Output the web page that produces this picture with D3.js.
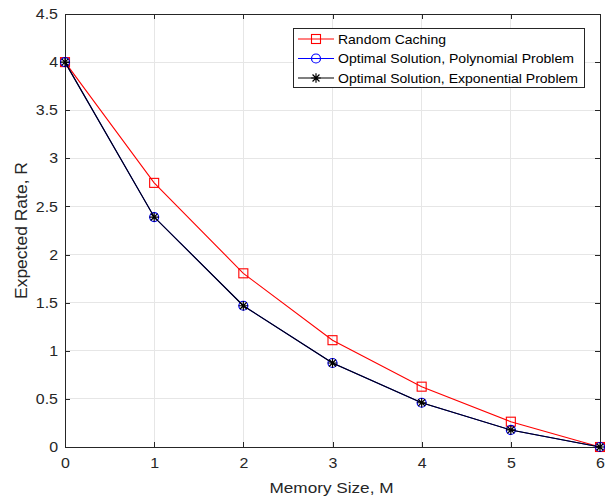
<!DOCTYPE html>
<html><head><meta charset="utf-8">
<script src="https://cdn.jsdelivr.net/npm/d3@7"></script>
<style>body{margin:0;background:#fff}svg{display:block}text{font-family:"Liberation Sans",Arial,sans-serif}</style>
</head><body><svg id="c" width="605" height="497"></svg>
<script>
const memory = [0,1,2,3,4,5,6];
const randomCaching = [4, 2.745, 1.805, 1.11, 0.627, 0.263, 0];
const optimalPoly = [4, 2.39, 1.468, 0.873, 0.46, 0.177, 0];
const optimalExp = [4, 2.39, 1.468, 0.873, 0.46, 0.177, 0];
const xTicks = [0,1,2,3,4,5,6];
const yTicks = [0,0.5,1,1.5,2,2.5,3,3.5,4,4.5];
const seriesNames = ["Random Caching","Optimal Solution, Polynomial Problem","Optimal Solution, Exponential Problem"];

const svg = d3.select("#c");
const L=65,R=600,T=14,B=447;
const x = d3.scaleLinear().domain([0,6]).range([L,R]);
const y = d3.scaleLinear().domain([0,4.5]).range([B,T]);
const tc="#262626";

function stretch(sel,k){
 sel.each(function(){const w=this.getComputedTextLength();this.setAttribute("textLength",w*k);this.setAttribute("lengthAdjust","spacingAndGlyphs");});
}

// grid
svg.append("g").selectAll("line").data(xTicks).join("line")
 .attr("x1",d=>x(d)).attr("x2",d=>x(d)).attr("y1",T).attr("y2",B)
 .attr("stroke","#e6e6e6").attr("stroke-width",1).attr("shape-rendering","crispEdges");
svg.append("g").selectAll("line").data(yTicks).join("line")
 .attr("y1",d=>y(d)).attr("y2",d=>y(d)).attr("x1",L).attr("x2",R)
 .attr("stroke","#e6e6e6").attr("stroke-width",1).attr("shape-rendering","crispEdges");

// axes
const xa = svg.append("g").attr("transform",`translate(0,${B})`)
 .call(d3.axisBottom(x).tickValues(xTicks).tickFormat(d3.format("d")).tickSizeInner(-5).tickSizeOuter(0).tickPadding(11));
const xt = svg.append("g").attr("transform",`translate(0,${T})`)
 .call(d3.axisTop(x).tickValues(xTicks).tickFormat("").tickSizeInner(-5).tickSizeOuter(0));
const ya = svg.append("g").attr("transform",`translate(${L},0)`)
 .call(d3.axisLeft(y).tickValues(yTicks).tickFormat(d=>String(d)).tickSizeInner(-5).tickSizeOuter(0).tickPadding(7));
const yr = svg.append("g").attr("transform",`translate(${R},0)`)
 .call(d3.axisRight(y).tickValues(yTicks).tickFormat("").tickSizeInner(-5).tickSizeOuter(0));
[xa,xt,ya,yr].forEach(g=>{
 g.selectAll("path").attr("stroke",tc).attr("stroke-width",1).attr("shape-rendering","crispEdges");
 g.selectAll("line").attr("stroke",tc).attr("shape-rendering","crispEdges");
 g.selectAll("text").attr("fill",tc).attr("font-size",14.5).attr("font-family","'Liberation Sans',Arial,sans-serif");
});
stretch(xa.selectAll("text"),1.1);
stretch(ya.selectAll("text"),1.1);

svg.append("text").attr("x",(L+R)/2-1).attr("y",492.5).attr("text-anchor","middle")
 .attr("font-size",15.5).attr("fill",tc).attr("textLength",124).attr("lengthAdjust","spacingAndGlyphs").text("Memory Size, M");
svg.append("text").attr("transform",`translate(27,${(T+B)/2}) rotate(-90)`).attr("text-anchor","middle")
 .attr("font-size",16).attr("fill",tc).attr("textLength",137).attr("lengthAdjust","spacingAndGlyphs").text("Expected Rate, R");

const line = d3.line().x((d,i)=>x(memory[i])).y(d=>y(d));
const series = [
 {v:randomCaching,c:"#ff0000",m:"square"},
 {v:optimalPoly,c:"#0000ff",m:"circle"},
 {v:optimalExp,c:"#000000",m:"star"}];

function marker(g,type,cx,cy,c){
 if(type==="square") g.append("rect").attr("x",cx-4.5).attr("y",cy-4.5).attr("width",9).attr("height",9).attr("fill","none").attr("stroke",c).attr("stroke-width",1.1);
 else if(type==="circle") g.append("circle").attr("cx",cx).attr("cy",cy).attr("r",4.5).attr("fill","none").attr("stroke",c).attr("stroke-width",1.2);
 else {
  const r=4.8, pth=d3.path();
  pth.moveTo(cx-r,cy);pth.lineTo(cx+r,cy);pth.moveTo(cx,cy-r);pth.lineTo(cx,cy+r);
  const d=r*0.72;pth.moveTo(cx-d,cy-d);pth.lineTo(cx+d,cy+d);pth.moveTo(cx-d,cy+d);pth.lineTo(cx+d,cy-d);
  g.append("path").attr("d",pth.toString()).attr("stroke",c).attr("stroke-width",1.2).attr("fill","none");
 }
}
series.forEach(s=>{
 const g=svg.append("g");
 g.append("path").attr("d",line(s.v)).attr("fill","none").attr("stroke",s.c).attr("stroke-width",1.1);
 s.v.forEach((v,i)=>marker(g,s.m,x(memory[i]),y(v),s.c));
});

// legend
const lg=svg.append("g");
lg.append("rect").attr("x",293.5).attr("y",28.5).attr("width",291).attr("height",59)
 .attr("fill","#fff").attr("stroke",tc).attr("stroke-width",1);
const ly=[39,58.5,78];
const lw=[108,236,240];
series.forEach((s,i)=>{
 lg.append("line").attr("x1",298).attr("x2",334).attr("y1",ly[i]).attr("y2",ly[i]).attr("stroke",s.c).attr("stroke-width",1.1);
 marker(lg,s.m,316,ly[i],s.c);
 lg.append("text").attr("x",338).attr("y",ly[i]+4.7).attr("font-size",13).attr("fill","#000")
  .attr("textLength",lw[i]).attr("lengthAdjust","spacingAndGlyphs").text(seriesNames[i]);
});
</script></body></html>
